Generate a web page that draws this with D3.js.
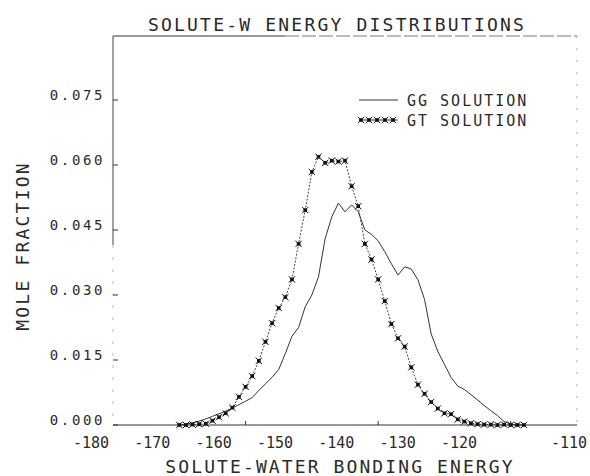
<!DOCTYPE html>
<meta charset="utf-8">
<script src="https://d3js.org/d3.v7.min.js"></script>
<style>
  body { margin: 0; background: #fff; }
  text { font-family: "DejaVu Sans Mono", monospace; fill: #2a2a2a; }
</style>
<svg id="chart" width="590" height="476"></svg>
<script>

// energies (bins of 1 unit) shared by both curves
var energy = [-170,-169,-168,-167,-166,-165,-164,-163,-162,-161,
              -160,-159,-158,-157,-156,-155,-154,-153,-152,-151,
              -150,-149,-148,-147,-146,-145,-144,-143,-142,-141,
              -140,-139,-138,-137,-136,-135,-134,-133,-132,-131,
              -130,-129,-128,-127,-126,-125,-124,-123,-122,-121,
              -120,-119,-118];

// GG solution (thin line)
var ggFraction = [0.0000,0.0002,0.0005,0.0009,0.0014,0.0020,0.0026,0.0032,0.0039,0.0047,
                  0.0055,0.0063,0.0080,0.0095,0.0110,0.0128,0.0165,0.0205,0.0225,0.0273,
                  0.0300,0.0342,0.0430,0.0480,0.0512,0.0492,0.0508,0.0492,0.0450,0.0440,
                  0.0425,0.0400,0.0372,0.0346,0.0365,0.0360,0.0335,0.0290,0.0210,0.0170,
                  0.0140,0.0110,0.0090,0.0082,0.0070,0.0058,0.0045,0.0033,0.0022,0.0008,
                  0.0002,0.0000,0.0000];

// GT solution (line with markers)
var gtFraction = [0.0000,0.0000,0.0001,0.0002,0.0003,0.0010,0.0018,0.0027,0.0040,0.0065,
                  0.0088,0.0113,0.0148,0.0192,0.0235,0.0270,0.0295,0.0336,0.0418,0.0496,
                  0.0584,0.0619,0.0605,0.0610,0.0608,0.0610,0.0551,0.0505,0.0418,0.0382,
                  0.0336,0.0286,0.0233,0.0200,0.0181,0.0133,0.0093,0.0072,0.0053,0.0038,
                  0.0027,0.0025,0.0013,0.0008,0.0004,0.0002,0.0001,0.0001,0.0000,0.0001,
                  0.0000,0.0000,0.0000];

var yTicks = [0.000, 0.015, 0.030, 0.045, 0.060, 0.075];
var xTickMarks = [-160, -140, -120];
var xTickLabels = [-180, -170, -160, -150, -140, -130, -120];
var xLastLabel = -110;

var svg = d3.select("#chart");

var mLeft = 113, mRight = 577, mTop = 36, mBottom = 425;

var x = d3.scaleLinear().domain([-180, -110]).range([mLeft, mRight]);
var y = d3.scaleLinear().domain([0, 0.075]).range([mBottom, 100]);
// the printed tick labels sit a little off the tick marks
var xLab = d3.scaleLinear().domain([-180, -120]).range([91, 459]);

// frame
svg.append("line").attr("x1", mLeft).attr("x2", mRight).attr("y1", mBottom).attr("y2", mBottom)
  .attr("stroke", "#333").attr("stroke-width", 1.2);
svg.append("line").attr("x1", mLeft).attr("x2", mLeft).attr("y1", mTop).attr("y2", 245)
  .attr("stroke", "#444").attr("stroke-width", 1);
svg.append("line").attr("x1", mLeft).attr("x2", mLeft).attr("y1", 245).attr("y2", mBottom)
  .attr("stroke", "#bbb").attr("stroke-width", 1).attr("stroke-dasharray", "3,9");
svg.append("line").attr("x1", mLeft).attr("x2", 285).attr("y1", mTop).attr("y2", mTop)
  .attr("stroke", "#333").attr("stroke-width", 1.2);
svg.append("line").attr("x1", 285).attr("x2", mRight).attr("y1", mTop).attr("y2", mTop)
  .attr("stroke", "#777").attr("stroke-width", 1).attr("stroke-dasharray", "14,3");
svg.append("line").attr("x1", mRight).attr("x2", mRight).attr("y1", mTop).attr("y2", mBottom)
  .attr("stroke", "#aaa").attr("stroke-width", 1).attr("stroke-dasharray", "2,10");

// y ticks + labels
svg.selectAll(".ytick").data(yTicks).enter().append("line")
  .attr("x1", mLeft).attr("x2", mLeft + 5)
  .attr("y1", function(d){ return y(d) }).attr("y2", function(d){ return y(d) })
  .attr("stroke", "#333");
svg.selectAll(".ylab").data(yTicks).enter().append("text")
  .attr("x", 105).attr("y", function(d){ return y(d) })
  .attr("text-anchor", "end")
  .style("font-size", "14px").style("letter-spacing", "2.6px")
  .text(function(d){ return d3.format(".3f")(d) });

// x ticks + labels
svg.selectAll(".xtick").data(xTickMarks).enter().append("line")
  .attr("x1", function(d){ return x(d) }).attr("x2", function(d){ return x(d) })
  .attr("y1", mBottom).attr("y2", mBottom - 4)
  .attr("stroke", "#333");
svg.selectAll(".xlab").data(xTickLabels).enter().append("text")
  .attr("x", function(d){ return xLab(d) }).attr("y", 448)
  .attr("text-anchor", "middle")
  .style("font-size", "15px")
  .text(function(d){ return d });
svg.append("text").attr("x", mRight + 10).attr("y", 448)
  .attr("text-anchor", "end").style("font-size", "15px")
  .text(xLastLabel);

// titles
svg.append("text").attr("x", 337).attr("y", 31).attr("text-anchor", "middle")
  .style("font-size", "18px").style("letter-spacing", "2.2px")
  .text("SOLUTE-W ENERGY DISTRIBUTIONS");
svg.append("text").attr("x", 340).attr("y", 473).attr("text-anchor", "middle")
  .style("font-size", "18px").style("letter-spacing", "2.1px")
  .text("SOLUTE-WATER BONDING ENERGY");
svg.append("text").attr("transform", "translate(29,246) rotate(-90)").attr("text-anchor", "middle")
  .style("font-size", "18px").style("letter-spacing", "2.2px")
  .text("MOLE FRACTION");

// curves
var gg = energy.map(function(e, i){ return [e, ggFraction[i]] });
var gt = energy.map(function(e, i){ return [e, gtFraction[i]] });
var line = d3.line().x(function(d){ return x(d[0]) }).y(function(d){ return y(d[1]) });

svg.append("path").datum(gg).attr("d", line)
  .attr("fill", "none").attr("stroke", "#333").attr("stroke-width", 1);
svg.append("path").datum(gt).attr("d", line)
  .attr("fill", "none").attr("stroke", "#444").attr("stroke-width", 1).attr("stroke-dasharray", "2,1.5");

var sq = d3.symbol().type(d3.symbolSquare).size(13);
var cross = d3.symbol().type(d3.symbolX).size(28);
var marks = svg.append("g");
marks.selectAll("path.sq").data(gt).enter().append("path")
  .attr("transform", function(d){ return "translate(" + x(d[0]) + "," + y(d[1]) + ")" })
  .attr("d", sq).attr("fill", "#111");
marks.selectAll("path.cx").data(gt).enter().append("path")
  .attr("transform", function(d){ return "translate(" + x(d[0]) + "," + y(d[1]) + ")" })
  .attr("d", cross).attr("fill", "none").attr("stroke", "#111").attr("stroke-width", 1);

// legend
var lg = [{name: "GG SOLUTION", yy: 100, markers: false}, {name: "GT SOLUTION", yy: 120, markers: true}];
lg.forEach(function(l){
  svg.append("line").attr("x1", 359).attr("x2", 398).attr("y1", l.yy).attr("y2", l.yy)
    .attr("stroke", "#333").attr("stroke-width", 1);
  if (l.markers) {
    [361, 369, 377, 385, 393].forEach(function(px){
      svg.append("path").attr("transform", "translate(" + px + "," + l.yy + ")").attr("d", sq).attr("fill", "#111");
      svg.append("path").attr("transform", "translate(" + px + "," + l.yy + ")").attr("d", cross)
        .attr("fill", "none").attr("stroke", "#111");
    });
  }
  svg.append("text").attr("x", 407).attr("y", l.yy + 6)
    .style("font-size", "15px").style("letter-spacing", "2px")
    .text(l.name);
});

</script>
